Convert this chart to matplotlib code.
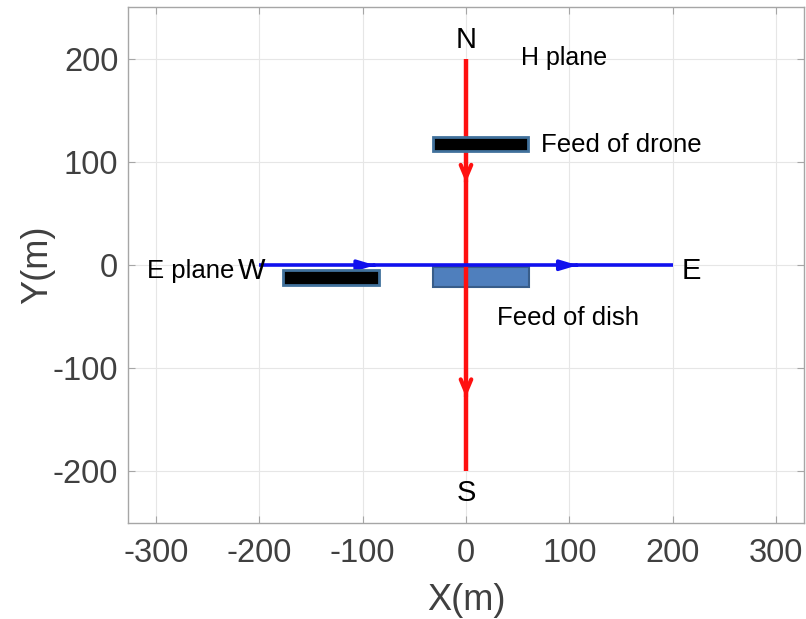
import matplotlib
matplotlib.use("Agg")
import matplotlib.pyplot as plt
from matplotlib.patches import Rectangle

plt.rcParams['font.family'] = ['Liberation Sans', 'DejaVu Sans']
plt.rcParams['axes.unicode_minus'] = False

# H-plane scan path (north to south) and E-plane scan path (west to east)
h_x = [0, 0]
h_y = [200, -200]
e_x = [-200, 200]
e_y = [0, 0]

# arrowhead tip positions along each path
h_arrow_y = [80, -128]
e_arrow_x = [-88, 108]

# feeds: (x0, y0, width, height)
drone_feed = (-32, 111, 92, 13)
left_feed = (-177, -19, 93, 14)
dish_feed = (-32, -21, 93, 19)

ticks = [-300, -200, -100, 0, 100, 200, 300]
yticks = [-200, -100, 0, 100, 200]

fig = plt.figure(figsize=(8.06, 6.19), dpi=100)
ax = fig.add_axes([0.1588, 0.155, 0.8387, 0.833])
ax.set_xlim(-327, 327)
ax.set_ylim(-250, 250)

ax.grid(True, color='#e6e6e6', lw=0.8)
ax.set_axisbelow(True)
for s in ax.spines.values():
    s.set_color('#a6a6a6')
    s.set_linewidth(1.0)
ax.set_xticks(ticks)
ax.set_yticks(yticks)
ax.tick_params(direction='in', length=5, color='#a6a6a6', labelsize=23.5,
               labelcolor='#404040', top=True, right=True)
ax.tick_params(axis='y', pad=7)
ax.tick_params(axis='x', pad=11)
ax.set_xlabel('X(m)', fontsize=26, color='#404040', labelpad=10)
ax.set_ylabel('Y(m)', fontsize=26, color='#404040', labelpad=-2)

# dish feed sits under the red path
ax.add_patch(Rectangle(dish_feed[:2], dish_feed[2], dish_feed[3],
                       facecolor='#4f7fbd', edgecolor='#385d8a', lw=1.5, zorder=2))

ax.plot(h_x, h_y, color='#ff1010', lw=3.2, zorder=3, solid_capstyle='butt')
ax.plot(e_x, e_y, color='#1010ee', lw=2.6, zorder=4, solid_capstyle='butt')

for yt in h_arrow_y:
    ax.annotate('', xy=(0, yt), xytext=(0, yt + 1),
                arrowprops=dict(arrowstyle='->,head_length=0.9,head_width=0.38',
                                color='#ff1010', lw=3), zorder=5)
for xt in e_arrow_x:
    ax.annotate('', xy=(xt, 0), xytext=(xt - 1, 0),
                arrowprops=dict(arrowstyle='-|>,head_length=1.0,head_width=0.3',
                                color='#1010ee', lw=2.5), zorder=5)

for (x0, y0, w, h) in (drone_feed, left_feed):
    ax.add_patch(Rectangle((x0, y0), w, h, facecolor='black',
                           edgecolor='#41719c', lw=2, zorder=6))

txt = dict(color='black', zorder=7)
ax.text(0, 218, 'N', fontsize=21, ha='center', va='center', **txt)
ax.text(0, -221, 'S', fontsize=21, ha='center', va='center', **txt)
ax.text(-207, -6, 'W', fontsize=21, ha='center', va='center', **txt)
ax.text(218, -6, 'E', fontsize=21, ha='center', va='center', **txt)
ax.text(53, 201, 'H plane', fontsize=18, ha='left', va='center', **txt)
ax.text(73, 117, 'Feed of drone', fontsize=18.5, ha='left', va='center', **txt)
ax.text(-309, -6, 'E plane', fontsize=18.5, ha='left', va='center', **txt)
ax.text(30, -51, 'Feed of dish', fontsize=18.5, ha='left', va='center', **txt)

fig.savefig('out.png', dpi=100)
